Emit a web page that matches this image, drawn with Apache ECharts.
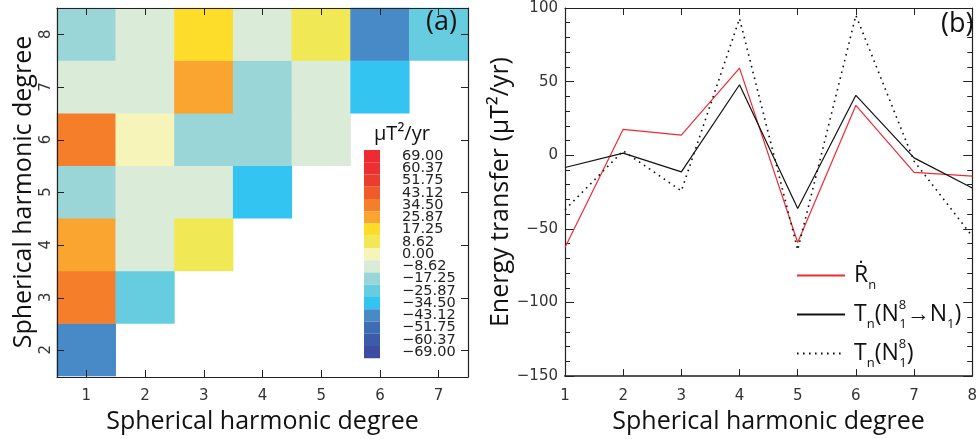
<!DOCTYPE html>
<html>
<head>
<meta charset="utf-8">
<script src="https://cdn.jsdelivr.net/npm/echarts@6/dist/echarts.min.js"></script>
<style>
html, body { margin: 0; padding: 0; background: #fff; }
#chart { width: 980px; height: 439px; }
</style>
</head>
<body>
<div id="chart"></div>
<script>
// ---- Panel (a): energy transfer matrix between spherical harmonic degrees ----
const sourceDegrees = ['1', '2', '3', '4', '5', '6', '7'];
const targetDegrees = ['2', '3', '4', '5', '6', '7', '8'];

// one row per target degree (2..8); entries run over source degree 1, 2, ...
const transferN2 = [-44.1];
const transferN3 = [36.2, -27.3];
const transferN4 = [24.8, -7.6, 9.3];
const transferN5 = [-16.9, -8.4, -9.1, -33.7];
const transferN6 = [33.1, 1.2, -18.5, -16.2, -7.4];
const transferN7 = [-9.6, -6.8, 26.9, -17.8, -8.9, -35.2];
const transferN8 = [-18.1, -8.0, 16.4, -9.3, 7.8, -42.6, -25.1];

// colour scale: band centres and colours, low to high
const bandValues = [-69.00, -60.37, -51.75, -43.12, -34.50, -25.87, -17.25, -8.62, 0.00,
                    8.62, 17.25, 25.87, 34.50, 43.12, 51.75, 60.37, 69.00];
const bandColors = ['#3d4d9f', '#3e5ba9', '#3f6db4', '#4889c8', '#33c4f1', '#66cce0', '#9ad5d7',
                    '#daebd8', '#f6f4b8', '#f1e856', '#fddc2a', '#faa530', '#f57e2b', '#ef5b2b',
                    '#e93e2e', '#ec2f31', '#ee2a32'];

// ---- Panel (b): energy transfer per degree ----
const lineDegrees = [1, 2, 3, 4, 5, 6, 7, 8];
const rDotN   = [-62.6, 17.6, 13.6, 59.2, -59.3, 33.9, -11.7, -14.2];
const tToN1   = [-8.3, 1.4, -11.3, 47.9, -36.2, 40.7, -1.8, -22.2];
const tTotal  = [-37.0, 3.0, -24.2, 92.8, -64.3, 95.0, -4.0, -55.0];

const transferRows = [transferN2, transferN3, transferN4, transferN5, transferN6, transferN7, transferN8];
const heatData = [];
transferRows.forEach(function (row, r) {
  row.forEach(function (v, c) { heatData.push([c, r, v]); });
});

const halfBand = 4.315;
const pieces = bandValues.map(function (v, i) {
  return {
    gte: v - halfBand, lt: v + halfBand, color: bandColors[i],
    label: v.toFixed(2).replace('-', '\u2212')
  };
});

const pair = function (ys) { return lineDegrees.map(function (x, i) { return [x, ys[i]]; }); };

const sansFont = "'Open Sans', 'Noto Sans', sans-serif";
const tickFont = { fontFamily: 'DejaVu Sans', fontSize: 15, color: '#333' };
const nameFont = { fontFamily: sansFont, fontSize: 25, color: '#111' };
const frameLine = { show: true, onZero: false, lineStyle: { color: '#222', width: 1.2 } };
const innerTick = { show: true, inside: true, length: 7, lineStyle: { color: '#222' } };
const noLabel = { show: false };

const minus = function (v) { return String(v).replace('-', '\u2212'); };

const legendRich = {
  m:   { fontFamily: sansFont, fontSize: 23, color: '#111', lineHeight: 32 },
  s:   { fontFamily: sansFont, fontSize: 13, color: '#111', verticalAlign: 'bottom', lineHeight: 13 },
  p:   { fontFamily: sansFont, fontSize: 13, color: '#111', verticalAlign: 'top', lineHeight: 13, width: 0.5 },
  pad: { width: 4 }
};
const legendText = {
  'Rdot':  '{pad|}{m|\u1E58}{s|n}',
  'Tto':   '{pad|}{m|T}{s|n}{m|(N}{p|8}{s|1}{m|\u2192N}{s|1}{m|)}',
  'Ttot':  '{pad|}{m|T}{s|n}{m|(N}{p|8}{s|1}{m|)}'
};

// frame axes drawn over the heatmap (same rectangle as grid 0), ticks at the cell centres
const frameX = function (pos) {
  return { type: 'value', gridIndex: 2, min: 0.5, max: 7.5, splitNumber: 7, position: pos, zlevel: 1,
           axisLine: frameLine, axisTick: innerTick, splitLine: { show: false }, axisLabel: noLabel };
};
const frameY = function (pos) {
  return { type: 'value', gridIndex: 2, min: 1.5, max: 8.5, splitNumber: 7, position: pos, zlevel: 1,
           axisLine: frameLine, axisTick: innerTick, splitLine: { show: false }, axisLabel: noLabel };
};

const chart = echarts.init(document.getElementById('chart'), null, { renderer: 'canvas' });
chart.setOption({
  animation: false,
  backgroundColor: '#fff',
  title: [
    { text: '(a)', left: 426, top: 9, padding: 0, zlevel: 1,
      textStyle: { fontFamily: sansFont, fontSize: 27, fontWeight: 'normal', color: '#111' } },
    { text: '(b)', left: 941, top: 11, padding: 0,
      textStyle: { fontFamily: sansFont, fontSize: 27, fontWeight: 'normal', color: '#111' } },
    { text: '\u03BCT\u00B2/yr', left: 374, top: 124, padding: 0,
      textStyle: { fontFamily: sansFont, fontSize: 20, fontWeight: 'normal', color: '#111' } }
  ],
  grid: [
    { left: 57, top: 8, width: 411, height: 369 },
    { left: 565, top: 8, width: 412, height: 369 },
    { left: 57, top: 8, width: 411, height: 369 }
  ],
  xAxis: [
    { type: 'category', gridIndex: 0, data: sourceDegrees, position: 'bottom',
      axisLine: { show: false }, axisTick: { show: false },
      axisLabel: Object.assign({ margin: 13 }, tickFont),
      name: 'Spherical harmonic degree', nameLocation: 'middle', nameGap: 27, nameTextStyle: nameFont },
    { type: 'value', gridIndex: 1, min: 1, max: 8, interval: 1, position: 'bottom',
      axisLine: { show: true, onZero: false, lineStyle: { color: '#555', width: 2 } },
      axisTick: innerTick, splitLine: { show: false },
      axisLabel: Object.assign({ margin: 13 }, tickFont),
      name: 'Spherical harmonic degree', nameLocation: 'middle', nameGap: 27, nameTextStyle: nameFont },
    { type: 'value', gridIndex: 1, min: 1, max: 8, interval: 1, position: 'top',
      axisLine: frameLine, axisTick: innerTick, splitLine: { show: false }, axisLabel: noLabel },
    frameX('bottom'),
    frameX('top')
  ],
  yAxis: [
    { type: 'category', gridIndex: 0, data: targetDegrees, position: 'left',
      axisLine: { show: false }, axisTick: { show: false },
      axisLabel: Object.assign({ margin: 3, rotate: 90 }, tickFont),
      name: 'Spherical harmonic degree', nameLocation: 'middle', nameGap: 21, nameTextStyle: nameFont },
    { type: 'value', gridIndex: 1, min: -150, max: 100, interval: 50, position: 'left',
      axisLine: frameLine,
      axisTick: { show: true, inside: true, length: 9, lineStyle: { color: '#222' } },
      minorTick: { show: true, splitNumber: 5, length: 5, lineStyle: { color: '#222' } },
      splitLine: { show: false },
      axisLabel: Object.assign({ margin: 7, formatter: minus }, tickFont),
      name: 'Energy transfer (\u03BCT\u00B2/yr)', nameLocation: 'middle', nameGap: 44, nameTextStyle: nameFont },
    { type: 'value', gridIndex: 1, min: -150, max: 100, interval: 50, position: 'right',
      axisLine: frameLine,
      axisTick: { show: true, inside: true, length: 9, lineStyle: { color: '#222' } },
      minorTick: { show: true, splitNumber: 5, length: 5, lineStyle: { color: '#222' } },
      splitLine: { show: false }, axisLabel: noLabel },
    frameY('left'),
    frameY('right')
  ],
  visualMap: {
    type: 'piecewise', seriesIndex: 0, pieces: pieces, orient: 'vertical',
    left: 364, top: 148.5, itemWidth: 28, itemHeight: 15.25, itemGap: -3,
    // each slot is 28 x 15.25; the swatch fills 16 x 12.25 of it so swatches stack edge to edge
    itemSymbol: 'path://M0,1.5L16,1.5L16,13.75L0,13.75Z M28,0L28,15.25',
    showLabel: true, selectedMode: false, hoverLink: false, padding: 0,
    textStyle: { fontFamily: 'DejaVu Sans', fontSize: 14.5, color: '#222' }
  },
  legend: {
    orient: 'vertical', left: 796, top: 264, itemWidth: 48, itemHeight: 14, itemGap: 7, padding: 0,
    selectedMode: false,
    itemStyle: { opacity: 0 },
    data: ['Rdot', 'Tto', 'Ttot'],
    formatter: function (name) { return legendText[name]; },
    textStyle: { rich: legendRich }
  },
  series: [
    { type: 'heatmap', xAxisIndex: 0, yAxisIndex: 0, data: heatData, itemStyle: { borderWidth: 0 } },
    { name: 'Rdot', type: 'line', xAxisIndex: 1, yAxisIndex: 1, data: pair(rDotN), symbol: 'none',
      lineStyle: { color: '#ee2a33', width: 1.2 }, itemStyle: { color: '#ee2a33' } },
    { name: 'Tto', type: 'line', xAxisIndex: 1, yAxisIndex: 1, data: pair(tToN1), symbol: 'none',
      lineStyle: { color: '#111', width: 1.2 }, itemStyle: { color: '#111' } },
    { name: 'Ttot', type: 'line', xAxisIndex: 1, yAxisIndex: 1, data: pair(tTotal), symbol: 'none',
      lineStyle: { color: '#111', width: 1.6, type: [1.6, 4.4] }, itemStyle: { color: '#111' } }
  ]
});
</script>
</body>
</html>
